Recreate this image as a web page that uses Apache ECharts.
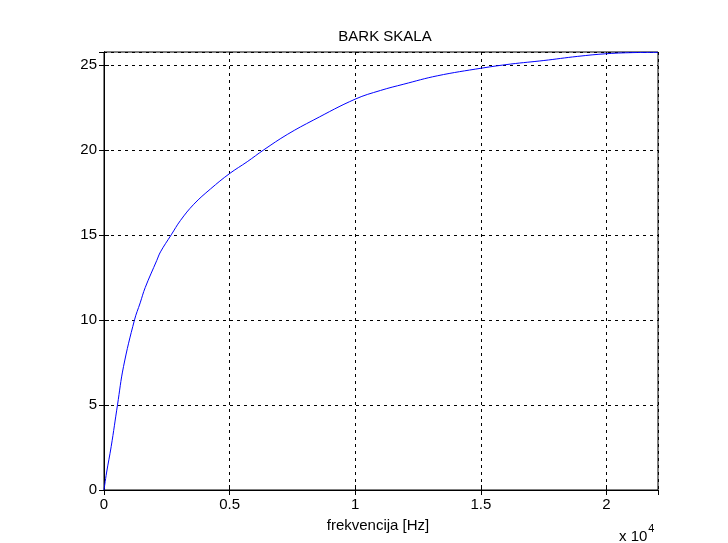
<!DOCTYPE html>
<html>
<head>
<meta charset="utf-8">
<script src="https://cdn.jsdelivr.net/npm/echarts@6/dist/echarts.min.js"></script>
<style>
  html, body { margin: 0; padding: 0; background: #fff; }
  #main { width: 728px; height: 543px; }
</style>
</head>
<body>
<div id="main"></div>
<script>
// frekvencija [Hz] i odgovarajuca vrijednost u barkima (ocitano sa slike)
var freq = [0, 100, 286, 537, 776, 1214, 1440, 1640, 2102, 2249, 2675, 3045, 3575, 4240, 4996, 5701, 6362, 7293, 8352, 10000, 11007, 11935, 13264, 15028, 16182, 17508, 18838, 20016, 21226, 22050];
var bark = [0, 1.0, 2.55, 5.0, 7.25, 10.0, 11.0, 11.9, 13.5, 14.0, 15.0, 15.85, 16.8, 17.7, 18.6, 19.3, 20.0, 20.9, 21.76, 22.98, 23.49, 23.86, 24.35, 24.8, 25.04, 25.25, 25.49, 25.65, 25.72, 25.73];
var xMax = 22050;
var yMax = 25.75;

var chart = echarts.init(document.getElementById('main'), null, { renderer: 'canvas' });

var pts = [];
for (var i = 0; i < freq.length; i++) {
  pts.push([freq[i], bark[i]]);
}

var font = 'Liberation Sans';
var dashed = { show: true, lineStyle: { color: '#000', type: [3, 4], width: 1 } };

var option = {
  backgroundColor: '#fff',
  animation: false,
  title: {
    text: 'BARK SKALA',
    left: 380,
    top: 24,
    textAlign: 'center',
    textStyle: { fontFamily: font, fontSize: 15, fontWeight: 'normal', color: '#000' }
  },
  grid: {
    left: 104, right: 70, top: 52, bottom: 53,
    show: true, borderColor: '#000', borderWidth: 1, backgroundColor: '#fff'
  },
  xAxis: [{
    type: 'value', min: 0, max: xMax, interval: 5000,
    axisLine: { show: true, lineStyle: { color: '#000' } },
    axisTick: { show: true, inside: true, length: 5, lineStyle: { color: '#000' } },
    splitLine: dashed,
    axisLabel: {
      color: '#000', fontFamily: font, fontSize: 15, margin: 7, showMaxLabel: false,
      formatter: function (v) { return String(v / 10000); }
    }
  }, {
    type: 'value', position: 'top', min: 0, max: xMax, interval: 5000,
    axisLine: { show: true, lineStyle: { color: '#000' } },
    axisTick: { show: true, inside: true, length: 5, lineStyle: { color: '#000' } },
    splitLine: { show: false }, axisLabel: { show: false }
  }],
  yAxis: [{
    type: 'value', min: 0, max: yMax, interval: 5,
    axisLine: { show: true, lineStyle: { color: '#000' } },
    axisTick: { show: true, inside: true, length: 5, lineStyle: { color: '#000' } },
    splitLine: dashed,
    axisLabel: { color: '#000', fontFamily: font, fontSize: 15, margin: 7, showMaxLabel: false }
  }, {
    type: 'value', position: 'right', min: 0, max: yMax, interval: 5,
    axisLine: { show: true, lineStyle: { color: '#000' } },
    axisTick: { show: true, inside: true, length: 5, lineStyle: { color: '#000' } },
    splitLine: { show: false }, axisLabel: { show: false }
  }],
  graphic: [{
    type: 'text', x: 378, y: 518,
    style: { text: 'frekvencija [Hz]', font: '15px "Liberation Sans"', fill: '#000', textAlign: 'center' }
  }, {
    type: 'text', x: 619, y: 519,
    style: {
      text: '{a|x 10}{b|4}',
      rich: {
        a: { fontFamily: font, fontSize: 15, color: '#000', padding: [10, 0, 0, 0] },
        b: { fontFamily: font, fontSize: 11, color: '#000', padding: [0, 0, 6, 1] }
      }
    }
  }],
  series: [{
    type: 'line',
    xAxisIndex: 0, yAxisIndex: 0,
    data: pts,
    showSymbol: false,
    smooth: 0.4,
    lineStyle: { color: '#0000ff', width: 1 },
    z: 5
  }]
};

chart.setOption(option);
</script>
</body>
</html>
